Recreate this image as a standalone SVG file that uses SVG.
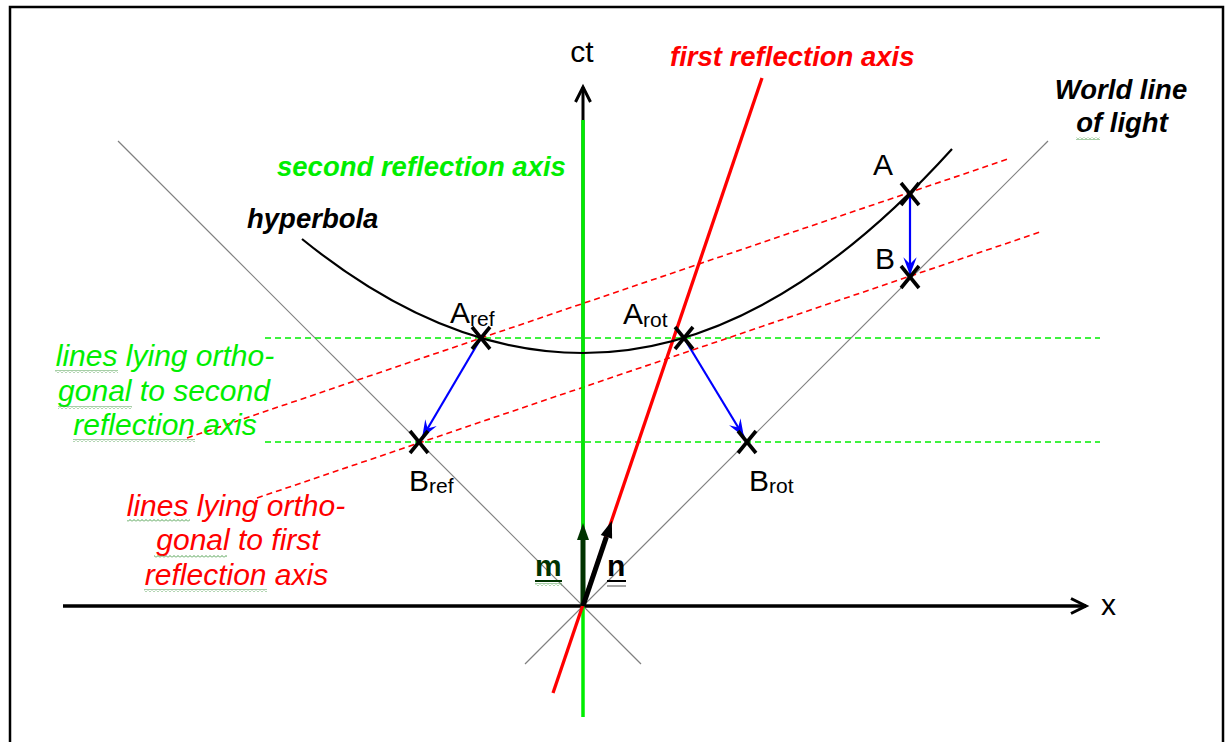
<svg xmlns="http://www.w3.org/2000/svg" width="1226" height="742" viewBox="0 0 1226 742">
  <style>
    .t { font-family: "Liberation Sans", Arial, sans-serif; }
    .lbl { font-size: 30px; fill: #000; }
    .bi { font-size: 27.5px; font-weight: bold; font-style: italic; }
    .it { font-size: 30px; font-style: italic; }
    .cone { stroke: #808080; stroke-width: 1.2; fill: none; }
    .rdash { stroke: #ff0000; stroke-width: 1.6; stroke-dasharray: 6 4; fill: none; }
    .gdash { stroke: #00ee00; stroke-width: 1.4; stroke-dasharray: 6 4; fill: none; }
    .blue { stroke: #0000ff; stroke-width: 2.2; fill: none; }
    .cross { stroke: #000; stroke-width: 3.6; stroke-linecap: butt; }
    .sq { fill: url(#squig); }
  </style>
  <defs>
    <marker id="open" markerUnits="userSpaceOnUse" markerWidth="24" markerHeight="24" viewBox="-20 -10 24 20" refX="0" refY="0" orient="auto" overflow="visible">
      <path d="M-15,-7.5 L0,0 L-15,7.5" fill="none" stroke="#000" stroke-width="3"/>
    </marker>
    <marker id="barb" markerUnits="userSpaceOnUse" markerWidth="20" markerHeight="20" viewBox="-16 -8 18 16" refX="0" refY="0" orient="auto" overflow="visible">
      <path d="M0,0 L-16,-6 L-10,0 L-16,6 Z" fill="#0000ff"/>
    </marker>
    <pattern id="squig" width="4" height="3" patternUnits="userSpaceOnUse">
      <path d="M0,2.5 L2,0.5 L4,2.5" fill="none" stroke="#4f9f4f" stroke-width="1"/>
    </pattern>
  </defs>

  <rect x="0" y="0" width="1226" height="742" fill="#fff"/>
  <rect id="frame" x="10" y="7" width="1213" height="760" fill="none" stroke="#000" stroke-width="2.5"/>

  <g id="connectors">
    <line class="cone" x1="118" y1="141" x2="641" y2="664"/>
    <line class="cone" x1="525" y1="664" x2="1048" y2="141"/>
    <line class="gdash" x1="265" y1="338" x2="1100" y2="338"/>
    <line class="gdash" x1="265" y1="442" x2="1100" y2="442"/>
    <line class="rdash" x1="187" y1="438" x2="1008" y2="159"/>
    <line class="rdash" x1="257" y1="498" x2="1040" y2="232"/>
    <line x1="63" y1="606" x2="1086" y2="606" stroke="#000" stroke-width="3.5" marker-end="url(#open)"/>
    <line x1="583" y1="606" x2="583" y2="87" stroke="#000" stroke-width="3" marker-end="url(#open)"/>
    <line id="second-axis" x1="583" y1="120" x2="583" y2="717" stroke="#00ee00" stroke-width="3.5"/>
    <line id="first-axis" x1="553" y1="693" x2="762" y2="78" stroke="#ff0000" stroke-width="3.3"/>
    <line class="blue" x1="481" y1="338" x2="422" y2="438" marker-end="url(#barb)"/>
    <line class="blue" x1="684" y1="338" x2="744" y2="437" marker-end="url(#barb)"/>
    <line class="blue" x1="910" y1="194" x2="910" y2="275" marker-end="url(#barb)"/>
  </g>

  <g id="hyperbola">
    <path d="M302,239 Q442.5,353 583,353 Q767.5,353 952,149" fill="none" stroke="#000" stroke-width="2.2"/>
  </g>

  <g id="vector-m">
    <line x1="583" y1="606" x2="583" y2="539" stroke="#003300" stroke-width="5"/>
    <polygon points="583,523 577,540 589,540" fill="#003300"/>
  </g>
  <g id="vector-n">
    <line x1="583" y1="606" x2="606.4" y2="536.9" stroke="#000" stroke-width="5"/>
    <polygon points="611.9,520.8 612.1,538.8 600.7,535.0" fill="#000"/>
  </g>

  <g id="points">
    <g id="pt-Aref"><line class="cross" x1="472" y1="327" x2="490" y2="349"/><line class="cross" x1="490" y1="327" x2="472" y2="349"/></g>
    <g id="pt-Arot"><line class="cross" x1="675" y1="327" x2="693" y2="349"/><line class="cross" x1="693" y1="327" x2="675" y2="349"/></g>
    <g id="pt-Bref"><line class="cross" x1="410" y1="431" x2="428" y2="453"/><line class="cross" x1="428" y1="431" x2="410" y2="453"/></g>
    <g id="pt-Brot"><line class="cross" x1="738" y1="431" x2="756" y2="453"/><line class="cross" x1="756" y1="431" x2="738" y2="453"/></g>
    <g id="pt-A"><line class="cross" x1="901" y1="183" x2="919" y2="205"/><line class="cross" x1="919" y1="183" x2="901" y2="205"/></g>
    <g id="pt-B"><line class="cross" x1="901" y1="266" x2="919" y2="288"/><line class="cross" x1="919" y1="266" x2="901" y2="288"/></g>
  </g>

  <g id="labels" class="t">
    <text class="t lbl" x="582" y="62" text-anchor="middle">ct</text>
    <text class="t lbl" x="1101" y="615">x</text>
    <text class="t bi" x="670" y="66" fill="#ff0000">first reflection axis</text>
    <text class="t bi" x="1121" y="99" text-anchor="middle" fill="#000">World line</text>
    <text class="t bi" x="1122" y="132" text-anchor="middle" fill="#000">of light</text>
    <rect class="sq" x="1076" y="137" width="24" height="3"/>
    <text class="t bi" x="277" y="176" fill="#00ee00">second reflection axis</text>
    <text class="t bi" x="247" y="228" fill="#000">hyperbola</text>

    <text class="t lbl" x="873" y="175">A</text>
    <text class="t lbl" x="875" y="269">B</text>
    <text class="t lbl" x="450" y="323">A<tspan font-size="21" dy="2.5">ref</tspan></text>
    <text class="t lbl" x="623" y="324">A<tspan font-size="21" dy="2.5">rot</tspan></text>
    <text class="t lbl" x="409" y="491">B<tspan font-size="21" dy="2">ref</tspan></text>
    <text class="t lbl" x="749" y="491">B<tspan font-size="21" dy="2">rot</tspan></text>

    <g fill="#00ee00">
      <text class="t it" x="165" y="366" text-anchor="middle">lines lying ortho-</text>
      <text class="t it" x="164" y="401" text-anchor="middle">gonal to second</text>
      <text class="t it" x="165" y="435" text-anchor="middle">reflection axis</text>
    </g>
    <rect class="sq" x="55" y="370" width="63" height="3"/>
    <rect class="sq" x="58" y="406" width="74" height="3"/>
    <rect class="sq" x="73" y="439" width="122" height="3"/>

    <g fill="#ff0000">
      <text class="t it" x="236" y="516" text-anchor="middle">lines lying ortho-</text>
      <text class="t it" x="238" y="550" text-anchor="middle">gonal to first</text>
      <text class="t it" x="236.5" y="585" text-anchor="middle">reflection axis</text>
    </g>
    <rect class="sq" x="127" y="519" width="63" height="3"/>
    <rect class="sq" x="154" y="555" width="73" height="3"/>
    <rect class="sq" x="144" y="589" width="123" height="3"/>

    <text class="t" x="535" y="576" font-size="30" font-weight="bold" fill="#003300">m</text>
    <line x1="535" y1="581" x2="562" y2="581" stroke="#003300" stroke-width="2"/>
    <rect x="535" y="583" width="27" height="3" fill="url(#squig)"/>
    <text class="t" x="607" y="576" font-size="30" font-weight="bold" fill="#000">n</text>
    <line x1="607" y1="581" x2="626" y2="581" stroke="#000" stroke-width="2"/>
    <line x1="607" y1="586" x2="626" y2="586" stroke="#888" stroke-width="1.5"/>
  </g>
</svg>
